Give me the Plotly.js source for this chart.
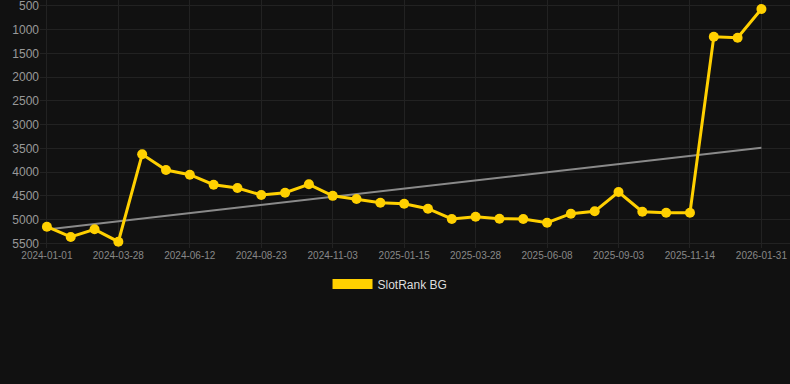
<!DOCTYPE html>
<html>
<head>
<meta charset="utf-8">
<script src="https://cdn.plot.ly/plotly-3.0.1.min.js"></script>
<style>
html,body{margin:0;padding:0;background:#111111;}
#chart{width:790px;height:384px;}
</style>
</head>
<body>
<div id="chart"></div>
<script>
// Dates (categories): labelled ticks; in-between dates estimated
const dates = [
  "2024-01-01","2024-01-30","2024-02-28","2024-03-28","2024-04-22","2024-05-17",
  "2024-06-12","2024-07-06","2024-07-30","2024-08-23","2024-09-16","2024-10-10",
  "2024-11-03","2024-11-27","2024-12-21","2025-01-15","2025-02-08","2025-03-04",
  "2025-03-28","2025-04-21","2025-05-15","2025-06-08","2025-07-07","2025-08-05",
  "2025-09-03","2025-09-27","2025-10-21","2025-11-14","2025-12-10","2026-01-05",
  "2026-01-31"
];
const ranks = [
  5150, 5367, 5205, 5466, 3625, 3955,
  4054, 4265, 4335, 4482, 4434, 4257,
  4500, 4567, 4644, 4665, 4771, 4988,
  4939, 4981, 4988, 5066, 4876, 4826,
  4419, 4834, 4855, 4855, 1147, 1168,
  563
];
const tickDates = [
  "2024-01-01","2024-03-28","2024-06-12","2024-08-23","2024-11-03",
  "2025-01-15","2025-03-28","2025-06-08","2025-09-03","2025-11-14","2026-01-31"
];
const yTicks = [500,1000,1500,2000,2500,3000,3500,4000,4500,5000,5500];
const trendX = ["2024-01-01","2026-01-31"];
const trendY = [5209, 3486];
const seriesName = "SlotRank BG";

const yellow = "#ffd000";

const traces = [
  {
    x: trendX, y: trendY, type: "scatter", mode: "lines",
    line: {color: "#8a8a8a", width: 2},
    showlegend: false, hoverinfo: "skip"
  },
  {
    x: dates, y: ranks, type: "scatter", mode: "lines+markers",
    line: {color: yellow, width: 3},
    marker: {color: yellow, size: 10},
    showlegend: false, name: seriesName, cliponaxis: false
  },
  {
    x: [null], y: [null], type: "scatter", mode: "lines",
    line: {color: yellow, width: 10},
    name: seriesName, showlegend: true
  }
];

const layout = {
  width: 790, height: 384,
  paper_bgcolor: "#111111", plot_bgcolor: "#111111",
  margin: {l: 40, r: 0, t: 0, b: 136},
  font: {family: "Liberation Sans, Arial, sans-serif", color: "#999"},
  xaxis: {
    type: "category",
    categoryorder: "array", categoryarray: dates,
    range: [-0.29, 31.2],
    tickmode: "array", tickvals: tickDates, ticktext: tickDates,
    tickangle: 0, automargin: false,
    tickfont: {size: 10, color: "#888"},
    gridcolor: "#222222", gridwidth: 1,
    showline: false, zeroline: false, ticks: ""
  },
  yaxis: {
    range: [5599, 374],
    tickmode: "array", tickvals: yTicks,
    automargin: false, ticklabeloverflow: "allow",
    tickfont: {size: 12, color: "#999"},
    gridcolor: "#222222", gridwidth: 1,
    zeroline: false, showline: false, ticks: ""
  },
  showlegend: true,
  legend: {
    orientation: "h",
    x: 0.4667, xanchor: "center",
    y: -0.087, yanchor: "top",
    font: {size: 12, color: "#dddddd"},
    bgcolor: "rgba(0,0,0,0)",
    itemwidth: 40
  },
  hovermode: false
};

Plotly.newPlot("chart", traces, layout, {displayModeBar: false, staticPlot: true});
</script>
</body>
</html>
